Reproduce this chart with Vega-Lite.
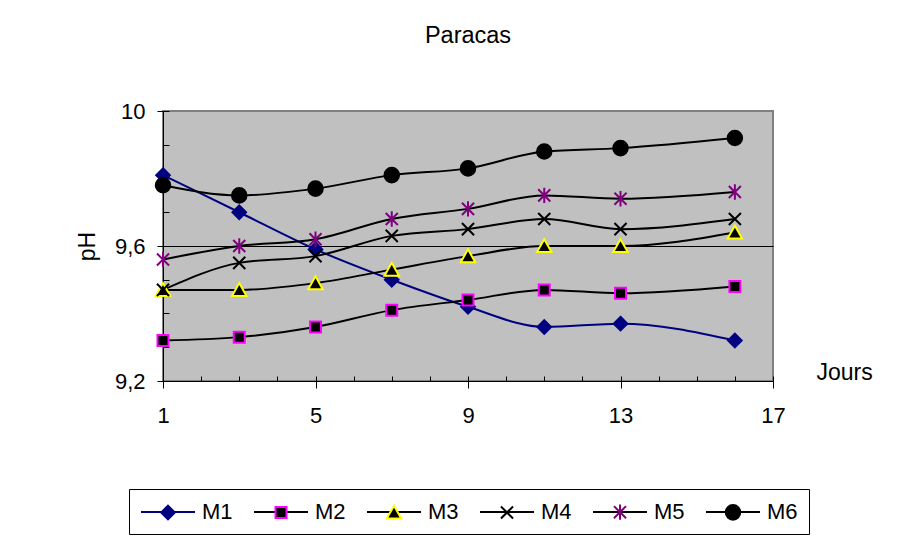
{
  "$schema": "https://vega.github.io/schema/vega-lite/v6.json",
  "width": 610,
  "height": 270,
  "autosize": "none",
  "padding": {"left": 163, "top": 111, "right": 138, "bottom": 166},
  "background": "white",
  "title": {
    "text": "Paracas",
    "anchor": "middle",
    "fontSize": 23.5,
    "fontWeight": "normal",
    "font": "Liberation Sans",
    "color": "black",
    "baseline": "alphabetic",
    "offset": 34
  },
  "config": {
    "font": "Liberation Sans",
    "view": {"fill": "#C0C0C0", "stroke": "#808080", "strokeWidth": 2},
    "axis": {
      "labelFont": "Liberation Sans",
      "titleFont": "Liberation Sans",
      "labelColor": "black",
      "titleColor": "black",
      "tickColor": "black",
      "domainColor": "black",
      "tickWidth": 1,
      "domainWidth": 1,
      "labelFontSize": 22,
      "titleFontSize": 23,
      "titleFontWeight": "normal",
      "labelFlush": false,
      "labelOverlap": false
    },
    "legend": {
      "labelFont": "Liberation Sans",
      "labelFontSize": 22,
      "labelColor": "black"
    }
  },
  "data": {
    "values": [
      {"jour": 1, "serie": "M1", "ph": 9.81},
      {"jour": 3, "serie": "M1", "ph": 9.70},
      {"jour": 5, "serie": "M1", "ph": 9.59},
      {"jour": 7, "serie": "M1", "ph": 9.50},
      {"jour": 9, "serie": "M1", "ph": 9.42},
      {"jour": 11, "serie": "M1", "ph": 9.36},
      {"jour": 13, "serie": "M1", "ph": 9.37},
      {"jour": 16, "serie": "M1", "ph": 9.32},
      {"jour": 1, "serie": "M2", "ph": 9.32},
      {"jour": 3, "serie": "M2", "ph": 9.33},
      {"jour": 5, "serie": "M2", "ph": 9.36},
      {"jour": 7, "serie": "M2", "ph": 9.41},
      {"jour": 9, "serie": "M2", "ph": 9.44},
      {"jour": 11, "serie": "M2", "ph": 9.47},
      {"jour": 13, "serie": "M2", "ph": 9.46},
      {"jour": 16, "serie": "M2", "ph": 9.48},
      {"jour": 1, "serie": "M3", "ph": 9.47},
      {"jour": 3, "serie": "M3", "ph": 9.47},
      {"jour": 5, "serie": "M3", "ph": 9.49},
      {"jour": 7, "serie": "M3", "ph": 9.53},
      {"jour": 9, "serie": "M3", "ph": 9.57},
      {"jour": 11, "serie": "M3", "ph": 9.60},
      {"jour": 13, "serie": "M3", "ph": 9.60},
      {"jour": 16, "serie": "M3", "ph": 9.64},
      {"jour": 1, "serie": "M4", "ph": 9.47},
      {"jour": 3, "serie": "M4", "ph": 9.55},
      {"jour": 5, "serie": "M4", "ph": 9.57},
      {"jour": 7, "serie": "M4", "ph": 9.63},
      {"jour": 9, "serie": "M4", "ph": 9.65},
      {"jour": 11, "serie": "M4", "ph": 9.68},
      {"jour": 13, "serie": "M4", "ph": 9.65},
      {"jour": 16, "serie": "M4", "ph": 9.68},
      {"jour": 1, "serie": "M5", "ph": 9.56},
      {"jour": 3, "serie": "M5", "ph": 9.60},
      {"jour": 5, "serie": "M5", "ph": 9.62},
      {"jour": 7, "serie": "M5", "ph": 9.68},
      {"jour": 9, "serie": "M5", "ph": 9.71},
      {"jour": 11, "serie": "M5", "ph": 9.75},
      {"jour": 13, "serie": "M5", "ph": 9.74},
      {"jour": 16, "serie": "M5", "ph": 9.76},
      {"jour": 1, "serie": "M6", "ph": 9.78},
      {"jour": 3, "serie": "M6", "ph": 9.75},
      {"jour": 5, "serie": "M6", "ph": 9.77},
      {"jour": 7, "serie": "M6", "ph": 9.81},
      {"jour": 9, "serie": "M6", "ph": 9.83},
      {"jour": 11, "serie": "M6", "ph": 9.88},
      {"jour": 13, "serie": "M6", "ph": 9.89},
      {"jour": 16, "serie": "M6", "ph": 9.92}
    ]
  },
  "resolve": {"axis": {"x": "independent", "y": "independent"}},
  "layer": [
    {
      "mark": {"type": "line", "strokeWidth": 2, "interpolate": "monotone"},
      "encoding": {
        "x": {
          "field": "jour",
          "type": "quantitative",
          "scale": {"domain": [1, 17], "nice": false, "zero": false},
          "axis": {
            "orient": "bottom",
            "values": [1, 5, 9, 13, 17],
            "tickSize": 7,
            "labelPadding": 17,
            "grid": false,
            "title": "Jours",
            "titleX": 653,
            "titleY": -2,
            "titleAlign": "left",
            "titleBaseline": "alphabetic",
            "titleAnchor": "start"
          }
        },
        "y": {
          "field": "ph",
          "type": "quantitative",
          "scale": {"domain": [9.2, 10], "nice": false, "zero": false},
          "axis": {
            "orient": "left",
            "values": [9.2, 9.6, 10],
            "tickSize": 6,
            "labelPadding": 12,
            "labelExpr": "replace(format(datum.value, '.1~f'), '.', ',')",
            "grid": true,
            "gridWidth": 1,
            "gridColor": {"condition": {"test": "datum.value == 9.6", "value": "black"}, "value": "transparent"},
            "title": "pH",
            "titlePadding": 15
          }
        },
        "color": {
          "field": "serie",
          "type": "nominal",
          "scale": {"range": ["#000080", "#000000", "#000000", "#000000", "#000000", "#000000"]},
          "legend": {
            "title": null,
            "orient": "none",
            "legendX": -34,
            "legendY": 378,
            "direction": "horizontal",
            "columns": 6,
            "symbolType": "M-2.4545,0L2.4545,0",
            "symbolSize": 484,
            "symbolStrokeWidth": 2,
            "symbolOffset": 16,
            "labelOffset": 22,
            "columnPadding": 17,
            "padding": 11,
            "strokeColor": "black",
            "zindex": 0
          }
        }
      }
    },
    {
      "transform": [{"filter": "isValid(datum.ph)"}],
      "mark": {"type": "point", "strokeWidth": 2, "size": 484, "opacity": 1},
      "encoding": {
        "x": {
          "field": "jour",
          "type": "quantitative",
          "axis": {
            "orient": "bottom",
            "values": [1, 2, 3, 4, 5, 6, 7, 8, 9, 10, 11, 12, 13, 14, 15, 16, 17],
            "tickSize": -5,
            "labels": false,
            "domain": false,
            "grid": false,
            "title": null
          }
        },
        "y": {
          "field": "ph",
          "type": "quantitative",
          "axis": {
            "orient": "left",
            "values": [9.2, 9.3, 9.4, 9.5, 9.6, 9.7, 9.8, 9.9, 10],
            "tickSize": -6,
            "labels": false,
            "domain": false,
            "grid": false,
            "title": null
          }
        },
        "shape": {
          "field": "serie",
          "type": "nominal",
          "scale": {
            "range": [
              "M-2.4545,0M2.4545,0M0,-0.62L0.62,0L0,0.62L-0.62,0Z",
              "M-2.4545,0M2.4545,0M-0.5,-0.5L0.5,-0.5L0.5,0.5L-0.5,0.5Z",
              "M-2.4545,0M2.4545,0M0,-0.62L0.66,0.55L-0.66,0.55Z",
              "M-2.4545,0M2.4545,0M-0.55,-0.55L0.55,0.55M-0.55,0.55L0.55,-0.55",
              "M-2.4545,0M2.4545,0M-0.55,-0.55L0.55,0.55M-0.55,0.55L0.55,-0.55M0,-0.7L0,0.7",
              "M-2.4545,0M2.4545,0M0.66,0A0.66,0.66,0,1,1,-0.66,0A0.66,0.66,0,1,1,0.66,0Z"
            ]
          },
          "legend": {
            "title": null,
            "orient": "none",
            "legendX": -34,
            "legendY": 378,
            "direction": "horizontal",
            "columns": 6,
            "symbolSize": 484,
            "symbolStrokeWidth": 2,
            "symbolOpacity": 1,
            "symbolOffset": 16,
            "labelOffset": 22,
            "columnPadding": 17,
            "padding": 11,
            "labelOpacity": 0,
            "zindex": 1
          }
        },
        "fill": {
          "field": "serie",
          "type": "nominal",
          "scale": {"range": ["#000080", "#000000", "#000000", "transparent", "transparent", "#000000"]}
        },
        "stroke": {
          "field": "serie",
          "type": "nominal",
          "scale": {"range": ["#000080", "#FF00FF", "#FFFF00", "#000000", "#800080", "#000000"]}
        }
      }
    }
  ]
}
